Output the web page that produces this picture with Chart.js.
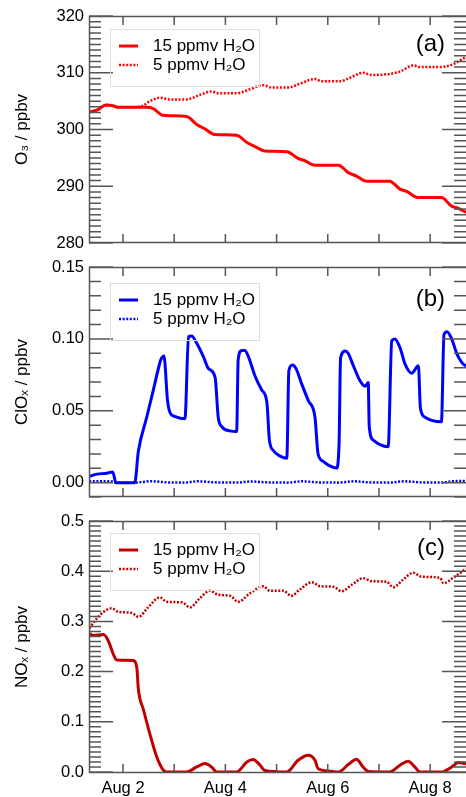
<!DOCTYPE html>
<html>
<head>
<meta charset="utf-8">
<script src="https://cdn.jsdelivr.net/npm/chart.js@4.4.1/dist/chart.umd.min.js"></script>
<style>
    body { margin: 0; background: #fff; overflow: hidden; width: 466px; height: 797px; position: relative; }
    canvas { position: absolute; left: 0; }
</style>
</head>
<body>
<canvas id="o3Chart" width="466" height="290" style="top:0px"></canvas>
<canvas id="cloxChart" width="466" height="290" style="top:250px"></canvas>
<canvas id="noxChart" width="466" height="292" style="top:505px"></canvas>
<script>
// Time is in days of August
const dayTicks = [2, 3, 4, 5, 6, 7, 8];
const o3Ticks = [280, 290, 300, 310, 320];
const cloxTicks = [0, 0.05, 0.10, 0.15];
const noxTicks = [0, 0.1, 0.2, 0.3, 0.4, 0.5];

// O3, 15 ppmv H2O
const o3Days15 = [1.34, 1.49, 1.67, 1.80, 1.90, 2.46, 2.59, 2.78, 3.24, 3.44, 3.60, 3.80, 4.22, 4.42, 4.58, 4.77,
    5.20, 5.42, 5.55, 5.75, 6.21, 6.40, 6.56, 6.76, 7.21, 7.41, 7.54, 7.77, 8.22, 8.42, 8.55, 8.70];
const o3Values15 = [303.1, 303.4, 304.3, 304.2, 303.9, 303.9, 303.7, 302.5, 302.3, 300.9, 300.1, 299.1, 299.0, 297.7, 297.0, 296.2,
    296.1, 294.9, 294.5, 293.7, 293.7, 292.4, 291.8, 290.9, 290.9, 289.5, 289.1, 288.0, 288.0, 286.5, 286.1, 285.4];
// O3, 5 ppmv H2O
const o3Days5 = [1.34, 1.49, 1.67, 1.80, 1.90, 2.33, 2.53, 2.72, 2.92, 3.24, 3.50, 3.73, 3.86, 4.22, 4.48, 4.74, 4.90,
    5.23, 5.46, 5.75, 5.88, 6.24, 6.43, 6.69, 6.86, 7.21, 7.41, 7.67, 7.80, 8.19, 8.42, 8.70];
const o3Values5 = [303.1, 303.4, 304.3, 304.2, 303.9, 304.0, 305.0, 305.6, 305.3, 305.3, 306.1, 306.7, 306.4, 306.4, 307.1, 307.8, 307.4,
    307.4, 308.1, 308.9, 308.5, 308.5, 309.1, 310.0, 309.6, 309.8, 310.2, 311.3, 311.0, 311.0, 311.4, 312.8];

// ClOx, 15 ppmv H2O
const cloxDays15 = [1.34, 1.49, 1.68, 1.80, 1.86, 2.23, 2.30, 2.46, 2.59, 2.71, 2.74, 2.80, 2.87, 2.92, 3.02, 3.21,
    3.28, 3.34, 3.44, 3.57, 3.67, 3.80, 3.86, 3.93, 4.09, 4.22, 4.25, 4.32, 4.38, 4.45, 4.58, 4.71, 4.81, 4.86, 4.94,
    5.07, 5.20, 5.24, 5.31, 5.38, 5.49, 5.62, 5.75, 5.81, 5.91, 6.04, 6.17, 6.22, 6.25, 6.34, 6.40, 6.50, 6.63, 6.73,
    6.79, 6.81, 6.89, 7.02, 7.18, 7.25, 7.31, 7.41, 7.51, 7.64, 7.77, 7.81, 7.90, 8.03, 8.22, 8.27, 8.33, 8.42, 8.52,
    8.62, 8.70];
const cloxValues15 = [0.0042, 0.0059, 0.0065, 0.0074, 0, 0, 0.0218, 0.045, 0.064, 0.082, 0.0855, 0.0881, 0.057, 0.0486, 0.0459, 0.0444,
    0.1015, 0.102, 0.097, 0.0877, 0.0793, 0.073, 0.0455, 0.039, 0.036, 0.0355, 0.0856, 0.092, 0.092, 0.0877, 0.074, 0.0645, 0.056, 0.0296, 0.0222,
    0.0184, 0.0169, 0.078, 0.0818, 0.0793, 0.0687, 0.057, 0.0455, 0.0201, 0.0148, 0.0116, 0.0101, 0.0264, 0.0867, 0.0915, 0.0898, 0.0813, 0.0708, 0.067,
    0.0697, 0.039, 0.0296, 0.0264, 0.0249, 0.0987, 0.100, 0.094, 0.0824, 0.0761, 0.0813, 0.0518, 0.0455, 0.0433, 0.0423, 0.1029, 0.105, 0.100, 0.0898,
    0.0835, 0.081];
// ClOx, 5 ppmv H2O
const cloxDays5 = [1.34, 1.80, 1.86, 2.23, 2.55, 2.85, 3.20, 3.45, 3.80, 4.20, 4.50, 4.80, 5.20, 5.50, 5.80, 6.20, 6.50, 6.80,
    7.20, 7.50, 7.80, 8.20, 8.45, 8.70];
const cloxValues5 = [0.0010, 0.0008, 0, 0, 0.0010, 0.0002, 0, 0.0009, 0.0002, 0, 0.0008, 0.0002, 0, 0.0009, 0.0002, 0, 0.0009, 0.0002,
    0, 0.0009, 0.0002, 0, 0.0010, 0.0011];

// NOx, 15 ppmv H2O
const noxDays15 = [1.34, 1.42, 1.62, 1.71, 1.81, 1.88, 2.20, 2.27, 2.30, 2.40, 2.53, 2.66, 2.79, 2.85, 3.24, 3.44, 3.60, 3.73,
    3.83, 4.22, 4.42, 4.54, 4.68, 4.77, 5.20, 5.42, 5.62, 5.75, 5.81, 6.01, 6.21, 6.40, 6.56, 6.69, 6.79, 7.21, 7.41, 7.57,
    7.70, 7.80, 8.22, 8.42, 8.55, 8.70];
const noxValues15 = [0.2756, 0.272, 0.274, 0.262, 0.235, 0.223, 0.222, 0.208, 0.165, 0.124, 0.074, 0.030, 0.0034, 0, 0, 0.010, 0.0168, 0.010,
    0, 0, 0.020, 0.025, 0.0134, 0.003, 0, 0.0235, 0.0336, 0.0235, 0.0067, 0.002, 0, 0.0148, 0.0255, 0.010, 0.001, 0, 0.0134, 0.0215,
    0.010, 0, 0, 0.010, 0.0188, 0.016];
// NOx, 5 ppmv H2O
const noxDays5 = [1.34, 1.49, 1.62, 1.78, 1.91, 2.17, 2.30, 2.49, 2.72, 2.85, 3.15, 3.31, 3.50, 3.70, 3.86, 4.09, 4.25, 4.48,
    4.74, 4.87, 5.13, 5.29, 5.46, 5.69, 5.85, 6.11, 6.27, 6.47, 6.69, 6.86, 7.15, 7.28, 7.47, 7.67, 7.83, 8.19, 8.26, 8.45, 8.70];
const noxValues5 = [0.286, 0.306, 0.319, 0.326, 0.319, 0.317, 0.309, 0.328, 0.348, 0.339, 0.338, 0.328, 0.346, 0.361, 0.353, 0.351, 0.339, 0.356,
    0.370, 0.361, 0.361, 0.351, 0.364, 0.378, 0.370, 0.369, 0.360, 0.373, 0.386, 0.380, 0.379, 0.368, 0.383, 0.397, 0.389, 0.387, 0.376, 0.387, 0.405];

const FONT = '"Liberation Sans", Arial, sans-serif';
const DAY_MIN = 1.336;
const DAY_MAX = 8.70;

function toPoints(days, values) {
    return days.map((d, i) => ({ x: d, y: values[i] }));
}

// frame with inward ticks, legend box and panel letter
function framePlugin(f) {
    return {
        id: 'frame',
        afterDraw(chart) {
            const { ctx, chartArea: a } = chart;
            const x = chart.scales.x, y = chart.scales.y;
            ctx.save();
            ctx.strokeStyle = '#555';
            ctx.lineWidth = 1.5;
            ctx.setLineDash([]);
            ctx.beginPath();
            ctx.moveTo(a.left + 0.5, a.top);
            ctx.lineTo(a.left + 0.5, a.bottom);
            ctx.moveTo(a.left, a.top + 0.5);
            ctx.lineTo(a.right, a.top + 0.5);
            ctx.moveTo(a.left, a.bottom - 0.5);
            ctx.lineTo(a.right, a.bottom - 0.5);

            // y ticks, left and right
            const n0 = Math.ceil(f.yMin / f.minorStep - 1e-6);
            const n1 = Math.floor(f.yMax / f.minorStep + 1e-6);
            for (let i = n0; i <= n1; i++) {
                const v = i * f.minorStep;
                const major = f.majorTicks.some(m => Math.abs(m - v) < f.minorStep / 10);
                const len = major ? 24 : 12;
                const yy = y.getPixelForValue(v);
                ctx.moveTo(a.left, yy);
                ctx.lineTo(a.left + len, yy);
                ctx.moveTo(a.right, yy);
                ctx.lineTo(a.right - len, yy);
            }
            // x ticks, top and bottom
            dayTicks.forEach(d => {
                const xx = x.getPixelForValue(d);
                ctx.moveTo(xx, a.top);
                ctx.lineTo(xx, a.top + 9);
                ctx.moveTo(xx, a.bottom);
                ctx.lineTo(xx, a.bottom - 9);
            });
            ctx.stroke();

            // legend
            const lx = a.left + 21, ly = a.top + f.legendTop;
            ctx.strokeStyle = '#ddd';
            ctx.lineWidth = 1;
            ctx.strokeRect(lx + 0.5, ly + 0.5, 149, 57);
            ctx.font = '17px ' + FONT;
            ctx.textBaseline = 'middle';
            ctx.fillStyle = '#000';
            chart.data.datasets.forEach((ds, i) => {
                const rowY = ly + 17 + i * 19;
                ctx.save();
                ctx.strokeStyle = ds.borderColor;
                ctx.lineWidth = ds.borderWidth;
                ctx.setLineDash(ds.borderDash || []);
                ctx.beginPath();
                ctx.moveTo(lx + 9, rowY);
                ctx.lineTo(lx + 28, rowY);
                ctx.stroke();
                ctx.restore();
                ctx.fillText(ds.label, lx + 43, rowY);
            });

            // panel letter
            ctx.font = '24px ' + FONT;
            ctx.textAlign = 'right';
            ctx.fillText(f.letter, a.right - 21, a.top + f.letterTop);
            ctx.restore();
        }
    };
}

function makePanel(canvasId, cfg) {
    return new Chart(document.getElementById(canvasId), {
        type: 'line',
        data: {
            datasets: [{
                label: '15 ppmv H₂O',
                data: cfg.solid,
                borderColor: cfg.color,
                borderWidth: 3,
                cubicInterpolationMode: 'monotone',
                pointRadius: 0
            }, {
                label: '5 ppmv H₂O',
                data: cfg.dotted,
                borderColor: cfg.color,
                borderWidth: 2.5,
                borderDash: [2, 1.6],
                cubicInterpolationMode: 'monotone',
                pointRadius: 0
            }]
        },
        options: {
            responsive: false,
            animation: false,
            layout: { padding: cfg.padding },
            plugins: {
                legend: { display: false },
                tooltip: { enabled: false }
            },
            scales: {
                x: {
                    type: 'linear',
                    min: DAY_MIN,
                    max: DAY_MAX,
                    display: cfg.showDays,
                    grid: { display: false, drawTicks: false },
                    border: { display: false },
                    afterBuildTicks: scale => { scale.ticks = dayTicks.map(v => ({ value: v })); },
                    afterFit: scale => { scale.height = 24; },
                    ticks: {
                        autoSkip: false,
                        maxRotation: 0,
                        padding: 6,
                        color: '#000',
                        font: { family: FONT, size: 16.5 },
                        callback: v => (v % 2 === 0 ? 'Aug ' + v : '')
                    }
                },
                y: {
                    min: cfg.yMin,
                    max: cfg.yMax,
                    grid: { display: false, drawTicks: false },
                    border: { display: false },
                    afterBuildTicks: scale => { scale.ticks = cfg.yTicks.map(v => ({ value: v })); },
                    afterFit: scale => { scale.width = 89; },
                    ticks: {
                        padding: 5,
                        color: '#000',
                        font: { family: FONT, size: 16.5 },
                        callback: v => v.toFixed(cfg.decimals)
                    },
                    title: {
                        display: true,
                        text: cfg.title,
                        color: '#000',
                        font: { family: FONT, size: 17 },
                        padding: { top: 12, bottom: 0 }
                    }
                }
            }
        },
        plugins: [framePlugin(Object.assign({ yMin: cfg.yMin, yMax: cfg.yMax, majorTicks: cfg.yTicks }, cfg.frame))]
    });
}

makePanel('o3Chart', {
    solid: toPoints(o3Days15, o3Values15),
    dotted: toPoints(o3Days5, o3Values5),
    color: '#ff0000',
    padding: { top: 16, bottom: 23, left: 0, right: 0 },
    showDays: false,
    yMin: 280, yMax: 320, yTicks: o3Ticks, decimals: 0,
    title: 'O₃ / ppbv',
    frame: { minorStep: 1, letter: '(a)', letterTop: 28, legendTop: 13 }
});

makePanel('cloxChart', {
    solid: toPoints(cloxDays15, cloxValues15),
    dotted: toPoints(cloxDays5, cloxValues5),
    color: '#0000ff',
    padding: { top: 17, bottom: 19, left: 0, right: 0 },
    showDays: false,
    yMin: -0.01, yMax: 0.15, yTicks: cloxTicks, decimals: 2,
    title: 'ClOₓ / ppbv',
    frame: { minorStep: 0.01, letter: '(b)', letterTop: 32, legendTop: 16 }
});

makePanel('noxChart', {
    solid: toPoints(noxDays15, noxValues15),
    dotted: toPoints(noxDays5, noxValues5),
    color: '#c00000',
    padding: { top: 16, bottom: 0, left: 0, right: 0 },
    showDays: true,
    yMin: -0.002, yMax: 0.5, yTicks: noxTicks, decimals: 1,
    title: 'NOₓ / ppbv',
    frame: { minorStep: 0.01, letter: '(c)', letterTop: 27, legendTop: 12 }
});
</script>
</body>
</html>
